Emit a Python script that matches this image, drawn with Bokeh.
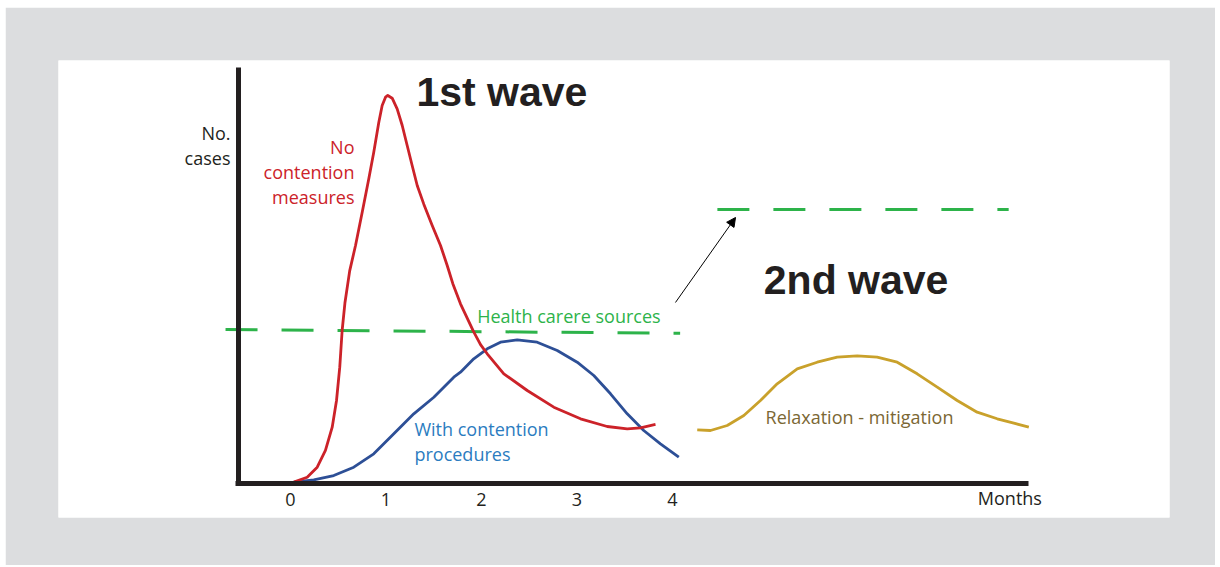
from bokeh.plotting import figure
from bokeh.models import Range1d, LinearAxis, FixedTicker, Label, Arrow, NormalHead
from bokeh.embed import file_html
from bokeh.resources import INLINE

# ---- data (x in months, y in arbitrary case units) ----
months_ticks = [0, 1, 2, 3, 4]

red_x = [-0.07, 0.035, 0.175, 0.280, 0.366, 0.437, 0.482, 0.516, 0.541, 0.570, 0.620, 0.681, 0.751,
         0.820, 0.872, 0.925, 0.960, 0.995, 1.019, 1.065, 1.117, 1.170, 1.222, 1.274, 1.327, 1.396,
         1.484, 1.571, 1.641, 1.700, 1.780, 1.916, 1.990, 2.060, 2.234, 2.479, 2.757, 3.037, 3.316,
         3.526, 3.665, 3.822]
red_y = [0.0, 0.34, 1.62, 4.20, 8.51, 14.51, 21.39, 29.97, 39.43, 46.5, 54.8, 61.34, 69.92,
         78.53, 85.39, 93.12, 97.42, 99.56, 100.0, 99.30, 96.57, 92.27, 87.11, 81.96, 76.80, 72.00,
         66.49, 61.34, 56.19, 51.5, 46.3, 39.2, 35.8, 33.43, 28.27, 23.97, 19.67, 16.68, 14.69,
         14.10, 14.36, 15.21]

blue_x = [0.035, 0.244, 0.453, 0.663, 0.872, 1.082, 1.291, 1.501, 1.710, 1.780, 1.919, 2.060, 2.199,
          2.374, 2.583, 2.793, 3.002, 3.176, 3.351, 3.526, 3.699, 3.874, 4.066]
blue_y = [0.34, 0.95, 2.06, 4.20, 7.65, 12.81, 17.96, 22.24, 27.40, 28.69, 32.14, 34.72, 36.42,
          37.04, 36.42, 34.28, 31.26, 27.84, 23.12, 17.96, 13.66, 10.23, 6.78]

gold_x = [4.259, 4.398, 4.573, 4.747, 4.921, 5.096, 5.306, 5.515, 5.725, 5.934, 6.143, 6.353, 6.562,
          6.772, 6.981, 7.190, 7.400, 7.574, 7.731]
gold_y = [13.84, 13.66, 14.95, 17.53, 21.39, 25.70, 29.56, 31.26, 32.55, 32.91, 32.55, 31.26, 28.27,
          24.82, 21.39, 18.38, 16.68, 15.54, 14.51]

capacity1_x = [-0.68, 4.08]
capacity1_y = [39.7, 38.7]
capacity2_x = [4.47, 7.52]
capacity2_y = [70.6, 70.6]

RED = "#cc2229"
BLUE = "#2d4f96"
BLUE_TXT = "#2b7cc0"
GREEN = "#2db34a"
GOLD = "#c9a12b"
GOLD_TXT = "#7b6734"
DARK = "#231f20"
GRAY = "#dcdddf"
FONT = "Open Sans"
BOLD_FONT = "Liberation Sans"

p = figure(width=1210, height=558, margin=(7, 5, 2, 5),
           x_range=Range1d(-2.429, 9.204), y_range=Range1d(-8.763, 109.02),
           output_backend="svg", toolbar_location=None,
           x_axis_type=None, y_axis_type=None,
           min_border_left=53, min_border_right=46, min_border_top=53, min_border_bottom=48)
p.border_fill_color = GRAY
p.background_fill_color = "white"
p.outline_line_color = None
p.grid.visible = False

# axes
xaxis = LinearAxis(ticker=FixedTicker(ticks=months_ticks), fixed_location=0,
                   bounds=(-0.571, 7.73))
xaxis.axis_line_width = 5
xaxis.axis_line_color = DARK
xaxis.major_tick_line_color = None
xaxis.minor_tick_line_color = None
xaxis.major_label_text_font = FONT
xaxis.major_label_text_font_size = "18px"
xaxis.major_label_text_color = DARK
xaxis.major_label_standoff = 4
p.add_layout(xaxis, "below")

yaxis = LinearAxis(ticker=FixedTicker(ticks=[]), fixed_location=-0.545,
                   bounds=(-0.64, 107.2))
yaxis.axis_line_width = 5
yaxis.axis_line_color = DARK
yaxis.major_tick_line_color = None
yaxis.minor_tick_line_color = None
yaxis.major_label_text_font_size = "0px"
p.add_layout(yaxis, "left")

# capacity lines
p.line(capacity1_x, capacity1_y, line_color=GREEN, line_width=3, line_dash="32 24")
p.line(capacity2_x, capacity2_y, line_color=GREEN, line_width=3, line_dash="32 24")

# curves
p.line(blue_x, blue_y, line_color=BLUE, line_width=2.8, line_join="round")
p.line(red_x, red_y, line_color=RED, line_width=2.8, line_join="round")
p.line(gold_x, gold_y, line_color=GOLD, line_width=2.8, line_join="round")

# arrow
p.add_layout(Arrow(x_start=4.031, y_start=46.65, x_end=4.660, y_end=68.56,
                   line_color="black", line_width=1,
                   end=NormalHead(size=9, fill_color="black", line_color="black")))

def lab(x, y, t, color, size=18, align="left", font=FONT, style="normal"):
    # compensate renderer baseline offset (~0.37 em)
    dy = 0.37 * size / 3.88
    p.add_layout(Label(x=x, y=y + dy, text=t, text_color=color, text_font=font,
                       text_font_size=f"{size}px", text_align=align, text_baseline="alphabetic",
                       text_font_style=style))

lab(1.319, 96.98, "1st wave", DARK, 41, font=BOLD_FONT, style="bold")
lab(4.956, 48.45, "2nd wave", DARK, 41, font=BOLD_FONT, style="bold")

lab(-0.628, 88.58, "No.", DARK, align="right")
lab(-0.628, 82.13, "cases", DARK, align="right")

lab(0.670, 85.13, "No", RED, align="right")
lab(0.670, 78.53, "contention", RED, align="right")
lab(0.670, 72.24, "measures", RED, align="right")

lab(1.298, 12.37, "With contention", BLUE_TXT)
lab(1.298, 5.93, "procedures", BLUE_TXT)

lab(1.955, 41.58, "Health carere sources", GREEN)
lab(4.974, 15.54, "Relaxation - mitigation", GOLD_TXT)
lab(7.197, -5.41, "Months", DARK)

open("out.html", "w").write(file_html(p, INLINE))
